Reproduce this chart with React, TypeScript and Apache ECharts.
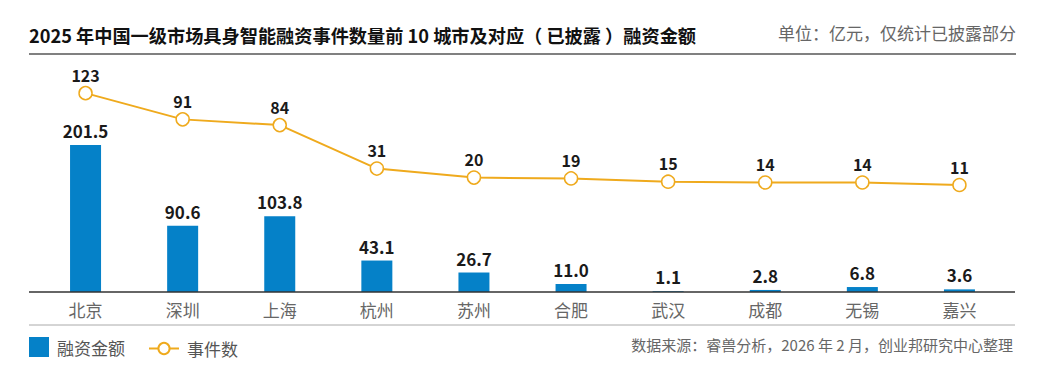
import React, { useEffect, useRef } from "react";
import * as echarts from "echarts";

const categories = ["北京", "深圳", "上海", "杭州", "苏州", "合肥", "武汉", "成都", "无锡", "嘉兴"];
const amounts = [201.5, 90.6, 103.8, 43.1, 26.7, 11.0, 1.1, 2.8, 6.8, 3.6];
const events = [123, 91, 84, 31, 20, 19, 15, 14, 14, 11];

const titleText = "2025 年中国一级市场具身智能融资事件数量前 10 城市及对应（ 已披露 ）融资金额";
const unitText = "单位：亿元，仅统计已披露部分";
const sourceText = "数据来源：睿兽分析，2026 年 2 月，创业邦研究中心整理";
const barName = "融资金额";
const lineName = "事件数";

const BLUE = "#0581C8";
const GOLD = "#EFAA1D";
const FONT = "'Noto Sans CJK SC', 'Noto Sans', sans-serif";

export default function App() {
  const ref = useRef<HTMLDivElement>(null);
  useEffect(() => {
    if (!ref.current) return;
    const chart = echarts.init(ref.current, undefined, { renderer: "svg" });
    chart.setOption({
      animation: false,
      backgroundColor: "#ffffff",
      textStyle: { fontFamily: FONT },
      grid: { left: 37, right: 44, top: 60, bottom: 89, containLabel: false },
      legend: [
        {
          data: [{ name: barName, icon: "rect" }],
          left: 29,
          top: 337,
          padding: 0,
          itemWidth: 20,
          itemHeight: 20,
          textStyle: { fontSize: 17, color: "#555", padding: [0, 0, 0, 3] },
        },
        {
          data: [{ name: lineName }],
          left: 148,
          top: 340,
          padding: 0,
          itemWidth: 30,
          itemHeight: 14,
          textStyle: { fontSize: 17, color: "#555", padding: [0, 0, 0, 3] },
        },
      ],
      xAxis: {
        type: "category",
        data: categories,
        axisLine: { show: false },
        axisTick: { show: false },
        axisLabel: { color: "#666", fontSize: 17, margin: 9 },
      },
      yAxis: [
        { type: "value", min: 0, max: 317.8, show: false, splitLine: { show: false } },
        { type: "value", min: -119.5, max: 163.4, show: false, splitLine: { show: false } },
      ],
      series: [
        {
          name: barName,
          type: "bar",
          data: amounts,
          barWidth: 31,
          itemStyle: { color: BLUE },
          label: {
            show: true,
            position: "top",
            distance: 6,
            color: "#1a1a1a",
            fontSize: 17,
            fontWeight: "bold",
            formatter: (p: any) => Number(p.value).toFixed(1),
          },
        },
        {
          name: lineName,
          type: "line",
          yAxisIndex: 1,
          data: events,
          symbol: "circle",
          symbolSize: 13,
          lineStyle: { color: GOLD, width: 2 },
          itemStyle: { color: "#ffffff", borderColor: GOLD, borderWidth: 1.5 },
          label: {
            show: true,
            position: "top",
            distance: 3,
            color: "#1a1a1a",
            fontSize: 16,
            fontWeight: "bold",
          },
          z: 3,
        },
      ],
      graphic: [
        {
          type: "text",
          left: 29,
          top: 26,
          style: { text: titleText, fontSize: 18.2, fontWeight: "bold", fill: "#111", fontFamily: FONT },
        },
        {
          type: "text",
          right: 36,
          top: 24,
          style: { text: unitText, fontSize: 17, fill: "#666", fontFamily: FONT },
        },
        {
          type: "line",
          shape: { x1: 29, y1: 54, x2: 1016, y2: 54 },
          style: { stroke: "#808080", lineWidth: 2 },
        },
        {
          type: "line",
          shape: { x1: 29, y1: 292, x2: 1015, y2: 292 },
          style: { stroke: "#333", lineWidth: 1.5 },
          z: 10,
        },
        {
          type: "line",
          shape: { x1: 29, y1: 325, x2: 1015, y2: 325 },
          style: { stroke: "#aaa", lineWidth: 1 },
        },
        {
          type: "text",
          right: 39,
          top: 337,
          style: { text: sourceText, fontSize: 15, fill: "#666", fontFamily: FONT },
        },
      ],
    });
    return () => chart.dispose();
  }, []);
  return (
    <div
      ref={ref}
      style={{ position: "fixed", left: 0, top: 0, width: 1052, height: 381 }}
    />
  );
}
